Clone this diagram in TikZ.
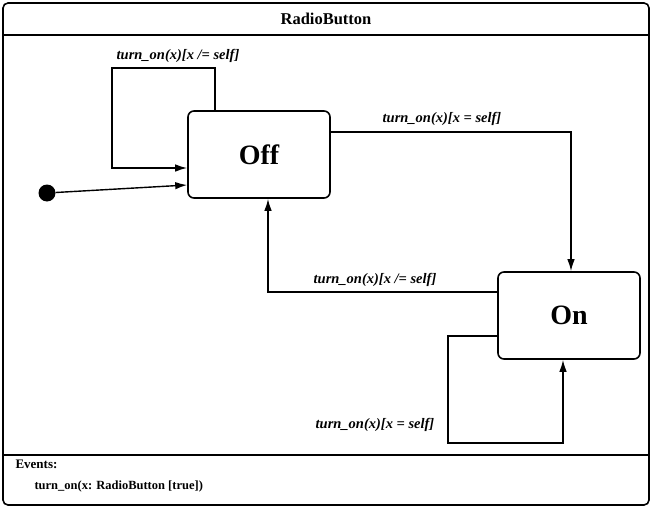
\documentclass[tikz,border=0pt]{standalone}
\usepackage{fontspec}
\setmainfont{Liberation Serif}
\usetikzlibrary{arrows.meta}
\begin{document}
\begin{tikzpicture}[x=1pt,y=-1pt,
  frame/.style={draw, line width=1.6pt, rounded corners=5pt},
  state/.style={draw, line width=1.6pt, rounded corners=6pt, minimum width=142pt, minimum height=87pt, font=\fontsize{28}{31}\selectfont\bfseries},
  trans/.style={line width=1.4pt, -{Latex[length=12pt,width=7.5pt]}},
  lbl/.style={font=\fontsize{14.5}{16}\selectfont\bfseries\itshape, inner sep=1pt}]
\useasboundingbox (0,0) rectangle (652,508);
\draw[frame] (3,3) rectangle (649,505);
\draw[line width=1.4pt] (3,35) -- (649,35);
\draw[line width=1.4pt] (3,455) -- (649,455);
\node[font=\fontsize{16.5}{18}\selectfont\bfseries] (title) at (326,19) {RadioButton};
\node[anchor=west, font=\fontsize{13}{15}\selectfont\bfseries] (ev) at (12,464) {Events:};
\node[anchor=west, font=\fontsize{12.5}{15}\selectfont\bfseries] (evt) at (31,486) {turn\_on(x: RadioButton [true])};

\node[state] (off) at (259,154.5) {Off};
\node[state] (on) at (569,315.5) {On};
\node[circle, fill, inner sep=0pt, minimum size=17pt] (init) at (47,193) {};

\coordinate (a1) at (215,68);
\coordinate (a2) at (112,68);
\coordinate (a3) at (112,168);
\draw[trans] (off.north -| a1) -- (a1) -- (a2) -- (a3) -- (a3 -| off.west);
\node[lbl] (l1) at (178,56) {turn\_on(x)[x /= self]};

\draw[trans] (init) -- (off.west |- 0,185);

\coordinate (b1) at (571,132);
\draw[trans] (off.east |- b1) -- (b1) -- (b1 |- on.north);
\node[lbl] (l2) at (442,119) {turn\_on(x)[x = self]};

\coordinate (c1) at (268,292);
\draw[trans] (on.west |- c1) -- (c1) -- (c1 |- off.south);
\node[lbl] (l3) at (375,280) {turn\_on(x)[x /= self]};

\coordinate (d1) at (448,336);
\coordinate (d2) at (448,443);
\coordinate (d3) at (563,443);
\draw[trans] (on.west |- d1) -- (d1) -- (d2) -- (d3) -- (d3 |- on.south);
\node[lbl] (l4) at (375,425) {turn\_on(x)[x = self]};
\end{tikzpicture}
\end{document}
